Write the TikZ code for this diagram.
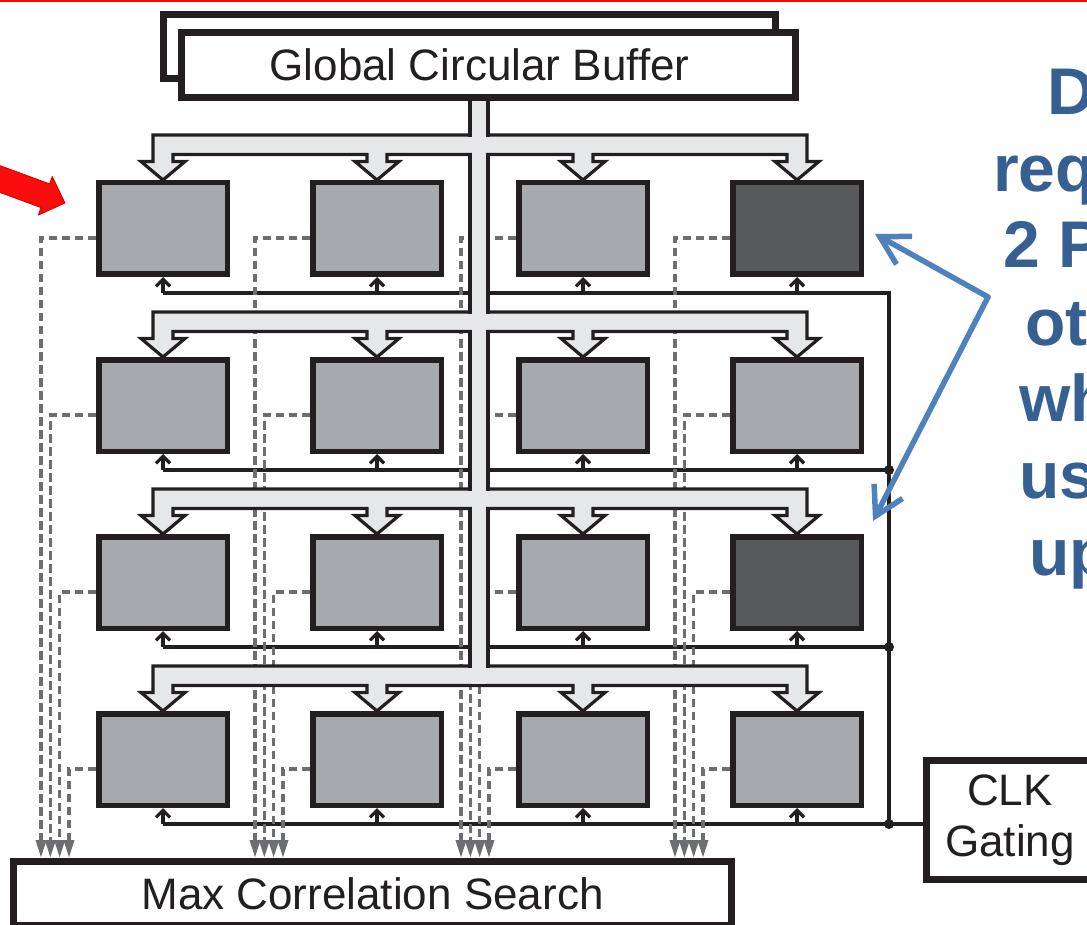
\documentclass[tikz,border=0pt]{standalone}
\usepackage{fontspec}
\setmainfont{Liberation Sans}
\usetikzlibrary{arrows.meta,calc}
\definecolor{ink}{HTML}{231F20}
\definecolor{pelight}{HTML}{A7A9AC}
\definecolor{pedark}{HTML}{58595B}
\definecolor{busfill}{HTML}{E6E7E8}
\definecolor{dashgray}{HTML}{6D6E71}
\definecolor{noteblue}{RGB}{55,96,146}
\definecolor{arrowblue}{HTML}{4F81BD}
\definecolor{hotred}{RGB}{250,12,12}
\pgfdeclarelayer{wires}
\pgfdeclarelayer{bus}
\pgfsetlayers{wires,bus,main}

\begin{document}
\begin{tikzpicture}[x=1pt,y=-1pt,
  pe/.style={draw=ink,line width=5.5pt,fill=pelight,minimum width=128.5pt,minimum height=91.5pt,inner sep=0pt},
  hot/.style={pe,fill=pedark},
  block/.style={draw=ink,line width=7pt,fill=white,inner sep=0pt,
    font=\fontsize{44}{51}\selectfont,text=ink},
  busline/.style={draw=ink,line width=3.2pt,fill=busfill,line join=miter},
  trunkline/.style={draw=ink,line width=3.2pt,line cap=rect},
  clkline/.style={draw=ink,line width=3.2pt},
  clkarrow/.style={clkline,-{Straight Barb[length=7pt,width=14pt]}},
  result/.style={draw=dashgray,line width=3.4pt,dash pattern=on 8.5pt off 4.5pt,
    -{Triangle[length=18pt,width=10pt]}},
  note/.style={text=noteblue,font=\fontsize{66}{76}\selectfont\bfseries,
    anchor=base west,inner sep=0pt},
  pointer/.style={draw=arrowblue,line width=5.5pt,line cap=round,
    -{Straight Barb[length=28pt,width=32pt]}}
]
\useasboundingbox (0,0) rectangle (1087,925);
\clip (0,0) rectangle (1087,925);

% slide rule along the top edge
\fill[red] (0,0) rectangle (1087,2);

% red marker arrow
\filldraw[fill=hotred,draw=red!80!black,line width=0.8pt,line join=round]
  (-6.7,163.2) -- (49.6,183.9) -- (52.3,176.5) -- (65,203)
  -- (38.3,215.1) -- (41.0,207.6) -- (-15.3,186.8) -- cycle;

% processing elements (4 x 4)
\foreach \rr/\py in {1/228.5,2/405.5,3/582.5,4/759.5}
  \foreach \cc/\px in {1/163,2/377,3/583,4/797} {
    \def\sty{pe}
    \ifnum\cc=4 \ifodd\rr \def\sty{hot}\fi\fi
    \node[\sty] (pe-\rr-\cc) at (\px,\py) {};
  }

% global circular buffer (double box)
\node[block,minimum width=612pt,minimum height=64pt] (gcbback) at (469.5,46.5) {};
\node[block,minimum width=614pt,minimum height=65pt] (gcb) at (488.5,65)
  {\hspace*{-18pt}Global Circular Buffer};

% result collector and clock gating unit
\node[block,minimum width=718pt,minimum height=64pt] (mcs) at (372.5,893.5)
  {Max Correlation Search};
\node[block,minimum width=167pt,minimum height=119pt,align=center] (clk)
  at (1010,820) {CLK\\Gating};

% data distribution bus: one branch per row plus the central trunk
\begin{pgfonlayer}{bus}
\def\xa{163}\def\xb{377}\def\xc{583}\def\xd{797}
\foreach \rr in {0,1,2,3} {
  \pgfmathsetmacro\T{135+177*\rr}
  \pgfmathsetmacro\B{\T+19.5}
  \pgfmathsetmacro\H{\B+7}
  \pgfmathsetmacro\P{180+177*\rr}
  \draw[busline]
    ({\xa-10},\T) -- ({\xd+10},\T) -- ({\xd+10},\H) -- ({\xd+22},\H) -- (\xd,\P)
    -- ({\xd-22},\H) -- ({\xd-10},\H) -- ({\xd-10},\B)
    -- ({\xc+10},\B) -- ({\xc+10},\H) -- ({\xc+22},\H) -- (\xc,\P)
    -- ({\xc-22},\H) -- ({\xc-10},\H) -- ({\xc-10},\B)
    -- ({\xb+10},\B) -- ({\xb+10},\H) -- ({\xb+22},\H) -- (\xb,\P)
    -- ({\xb-22},\H) -- ({\xb-10},\H) -- ({\xb-10},\B)
    -- ({\xa+10},\B) -- ({\xa+10},\H) -- ({\xa+22},\H) -- (\xa,\P)
    -- ({\xa-22},\H) -- ({\xa-10},\H) -- cycle;
}
\fill[busfill] (471.6,95) rectangle (486.4,683.9);
\foreach \top/\bot in {95/135,154.5/312,331.5/489,508.5/666} {
  \draw[trunkline] (470,\top) -- (470,\bot);
  \draw[trunkline] (488,\top) -- (488,\bot);
}
\end{pgfonlayer}

% clock distribution and result wires
\begin{pgfonlayer}{wires}
\foreach \rr/\py in {1/293,2/470,3/647,4/824}
  \coordinate (k\rr) at (889,\py);
\draw[clkline] (pe-1-1.south |- k1) -- (k1) -- (k4) -- (clk.west |- k4);
\foreach \rr in {2,3,4} {
  \draw[clkline] (pe-\rr-1.south |- k\rr) -- (k\rr);
  \fill[ink] (k\rr) circle (5);
}
\foreach \rr in {1,...,4}
  \foreach \cc in {1,...,4}
    \draw[clkarrow] (pe-\rr-\cc.south |- k\rr) -- (pe-\rr-\cc.south);

\foreach \rr in {1,...,4}
  \foreach \cc in {1,...,4}
    \draw[result] ([yshift=-9.5pt]pe-\rr-\cc.west)
      -| ([xshift={-55pt+(\rr-1)*9.33pt}]pe-\rr-\cc.west |- mcs.north);
\end{pgfonlayer}

% annotation
\node[note] at (1047,115) {D};
\node[note] at (993,192) {req};
\node[note] at (1003,268) {2 P};
\node[note] at (1025,345) {ot};
\node[note] at (1019,421) {wh};
\node[note] at (1019,498) {us};
\node[note] at (1029,575) {up};

\coordinate (fork) at (988,297);
\coordinate (tipA) at ([xshift=11pt,yshift=-5.5pt]pe-1-4.east);
\coordinate (tipB) at ([xshift=9pt,yshift=13pt]pe-3-4.north east);
\draw[pointer] (fork) -- (tipA);
\draw[pointer] (fork) -- (tipB);
\end{tikzpicture}
\end{document}
